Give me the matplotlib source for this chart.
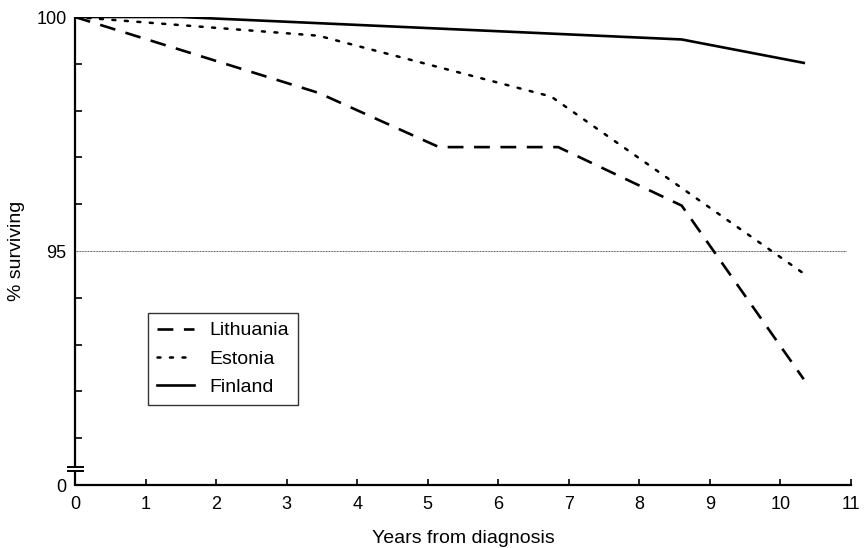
import matplotlib
matplotlib.use("Agg")
import matplotlib.pyplot as plt
from matplotlib.ticker import FixedLocator

plt.rcParams['font.family'] = ['Liberation Sans', 'DejaVu Sans']

# Data (years from diagnosis, % surviving; bottom of axis is broken at 90 -> labelled 0)
lith_x = [0, 3.45, 5.16, 6.85, 8.6, 10.33]
lith_y = [100, 98.38, 97.22, 97.22, 95.97, 92.26]
est_x = [0, 3.45, 6.75, 10.3]
est_y = [100, 99.6, 98.3, 94.55]
fin_x = [0, 1.5, 8.6, 10.33]
fin_y = [100, 100, 99.52, 99.02]

x_ticks = list(range(0, 12))
y_ticks = [90, 95, 100]
y_ticklabels = ['0', '95', '100']
ref_level = 95

fig = plt.figure(figsize=(8.64, 5.48), dpi=100)
ax = fig.add_axes([75/864, 63/548, 776/864, 468/548])

ax.axhline(ref_level, xmin=0, xmax=10.93/11, color='#555555', lw=0.7,
           linestyle=(0, (1, 0.6)), zorder=1)

ax.plot(lith_x, lith_y, color='black', lw=1.9, linestyle=(0, (6, 4)),
        label='Lithuania', solid_capstyle='butt', dash_capstyle='butt')
ax.plot(est_x, est_y, color='black', lw=1.8, linestyle=(0, (1.2, 3.8)),
        label='Estonia', dash_capstyle='round')
ax.plot(fin_x, fin_y, color='black', lw=1.9, linestyle='-', label='Finland')

ax.set_xlim(0, 11)
ax.set_ylim(90, 100)

for s in ['top', 'right', 'left']:
    ax.spines[s].set_visible(False)
ax.spines['bottom'].set_linewidth(1.6)

# broken y axis drawn manually
ax.plot([0, 0], [90, 90.30], color='black', lw=1.6, clip_on=False, solid_capstyle='butt')
ax.plot([0, 0], [90.39, 100], color='black', lw=1.6, clip_on=False, solid_capstyle='butt')
ax.plot([-0.1, 0.11], [90.30, 90.30], color='black', lw=1.4, clip_on=False)
ax.plot([-0.1, 0.11], [90.39, 90.39], color='black', lw=1.4, clip_on=False)

ax.set_xticks(x_ticks)
ax.set_yticks(y_ticks)
ax.set_yticklabels(y_ticklabels)
ax.yaxis.set_minor_locator(FixedLocator([91, 92, 93, 94, 96, 97, 98, 99]))
ax.tick_params(axis='y', which='major', length=0, pad=6, labelsize=13)
ax.tick_params(axis='y', which='minor', direction='in', length=5, width=1.2)
ax.tick_params(axis='x', which='major', direction='in', length=4, width=1.2,
               pad=8, labelsize=13)

ax.set_xlabel('Years from diagnosis', fontsize=14, labelpad=12)
ax.set_ylabel('% surviving', fontsize=14, labelpad=8)

leg = ax.legend(loc='upper left', bbox_to_anchor=(0.094, 0.3675), borderaxespad=0,
                fontsize=14, frameon=True, fancybox=False, handlelength=1.9,
                handletextpad=0.8, labelspacing=0.55, borderpad=0.45)
leg.get_frame().set_edgecolor('black')
leg.get_frame().set_linewidth(1.0)

fig.savefig('out.png', dpi=100)
